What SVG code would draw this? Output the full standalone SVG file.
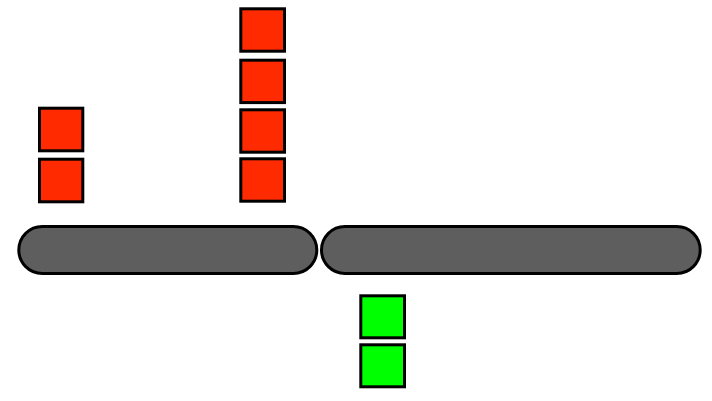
<svg xmlns="http://www.w3.org/2000/svg" width="712" height="401" viewBox="0 0 712 401">
<style>
.red{fill:#ff2a00;stroke:#000;stroke-width:3}
.green{fill:#00ff00;stroke:#000;stroke-width:3}
.bar{fill:#5e5e5e;stroke:#000;stroke-width:3}
</style>
<rect width="712" height="401" fill="#fff"/>
<g id="bar1"><rect class="bar" x="18.8" y="226.5" width="298" height="47" rx="23.5" ry="23.5"/></g>
<g id="bar2"><rect class="bar" x="321.5" y="226.5" width="378.7" height="47" rx="23.5" ry="23.5"/></g>
<g id="stackA">
<rect class="red" x="39.5" y="108.2" width="43.3" height="42.6"/>
<rect class="red" x="39.5" y="159.2" width="43.3" height="42.6"/>
</g>
<g id="stackB">
<rect class="red" x="240.8" y="8.8" width="43.7" height="42.4"/>
<rect class="red" x="240.8" y="60.2" width="43.7" height="42.4"/>
<rect class="red" x="240.8" y="109.8" width="43.7" height="42.4"/>
<rect class="red" x="240.8" y="158.8" width="43.7" height="42.4"/>
</g>
<g id="stackC">
<rect class="green" x="360.8" y="295.8" width="43.7" height="42"/>
<rect class="green" x="360.8" y="344.8" width="43.7" height="42"/>
</g>
<g id="connectors"></g>
</svg>
